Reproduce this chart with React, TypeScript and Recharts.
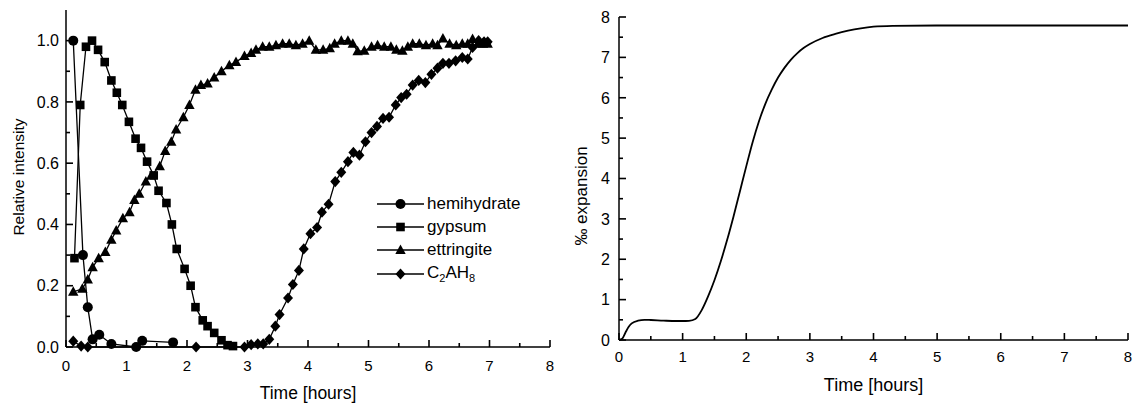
import React from 'react';
import { LineChart, Line, XAxis, YAxis, Legend, Label } from 'recharts';

const FONT = '"Liberation Sans", Arial, Helvetica, sans-serif';

// ---------- data (time [hours], value) ----------
const hemihydrate: [number, number][] = [
  [0.12, 1.0], [0.28, 0.3], [0.36, 0.13], [0.44, 0.025], [0.55, 0.04], [0.75, 0.01],
  [1.16, 0.0], [1.26, 0.02], [1.77, 0.015],
];
const gypsum: [number, number][] = [
  [0.14, 0.29], [0.235, 0.79], [0.33, 0.98], [0.43, 1.0], [0.53, 0.97], [0.64, 0.93],
  [0.75, 0.87], [0.84, 0.83], [0.93, 0.79], [1.04, 0.735], [1.15, 0.68], [1.24, 0.65],
  [1.34, 0.605], [1.45, 0.56], [1.53, 0.51], [1.66, 0.47], [1.75, 0.4], [1.83, 0.32],
  [1.96, 0.255], [2.06, 0.2], [2.14, 0.13], [2.26, 0.087], [2.34, 0.068], [2.45, 0.046],
  [2.57, 0.022], [2.67, 0.006], [2.76, 0.003],
];
const ettringite: [number, number][] = [
  [0.12, 0.18], [0.27, 0.19], [0.36, 0.22], [0.44, 0.26], [0.54, 0.29], [0.65, 0.31],
  [0.75, 0.35], [0.83, 0.38], [0.94, 0.42], [1.05, 0.44], [1.13, 0.48], [1.21, 0.5],
  [1.32, 0.54], [1.41, 0.56], [1.55, 0.59], [1.64, 0.64], [1.74, 0.67], [1.82, 0.71],
  [1.94, 0.75], [2.04, 0.79], [2.14, 0.84], [2.23, 0.855], [2.34, 0.86], [2.45, 0.88],
  [2.57, 0.9], [2.7, 0.92], [2.81, 0.93], [2.95, 0.95], [3.06, 0.96], [3.14, 0.97],
  [3.25, 0.98], [3.36, 0.98], [3.47, 0.985], [3.58, 0.99], [3.69, 0.99], [3.8, 0.985],
  [3.91, 0.99], [4.02, 1.0], [4.13, 0.97], [4.25, 0.97], [4.36, 0.975], [4.44, 0.99],
  [4.55, 1.0], [4.66, 1.0], [4.74, 0.99], [4.82, 0.965], [4.93, 0.967], [5.05, 0.98],
  [5.15, 0.985], [5.26, 0.98], [5.37, 0.98], [5.46, 0.97], [5.56, 0.967], [5.65, 0.98],
  [5.73, 0.99], [5.84, 0.99], [5.95, 0.985], [6.06, 0.99], [6.14, 0.985], [6.23, 1.007],
  [6.34, 0.99], [6.45, 0.985], [6.55, 0.99], [6.64, 0.99], [6.72, 1.005], [6.81, 0.99],
  [6.89, 0.99], [6.97, 0.99],
];
const c2ah8: [number, number][] = [
  [0.12, 0.019], [0.25, 0.003], [0.36, 0.0], [2.15, 0.0], [2.95, 0.0], [3.06, 0.008],
  [3.17, 0.01], [3.26, 0.01], [3.36, 0.025], [3.46, 0.068], [3.53, 0.106], [3.67, 0.16],
  [3.75, 0.204], [3.85, 0.25], [3.93, 0.32], [4.04, 0.37], [4.15, 0.39], [4.23, 0.44],
  [4.34, 0.466], [4.45, 0.54], [4.55, 0.57], [4.66, 0.605], [4.75, 0.635], [4.85, 0.626],
  [4.95, 0.67], [5.05, 0.7], [5.14, 0.72], [5.24, 0.746], [5.34, 0.75], [5.45, 0.79],
  [5.54, 0.814], [5.63, 0.825], [5.73, 0.855], [5.83, 0.87], [5.94, 0.863], [6.04, 0.89],
  [6.14, 0.91], [6.23, 0.926], [6.33, 0.926], [6.44, 0.934], [6.55, 0.945], [6.64, 0.94],
  [6.72, 0.978], [6.82, 1.0], [6.91, 0.996], [6.97, 0.996],
];
const expansion: [number, number][] = [
  [0, 0], [0.05, 0.03], [0.1, 0.18], [0.15, 0.32], [0.2, 0.41], [0.3, 0.48], [0.4, 0.5],
  [0.5, 0.495], [0.7, 0.48], [0.9, 0.47], [1.0, 0.47], [1.1, 0.475], [1.2, 0.52], [1.3, 0.74],
  [1.4, 1.08], [1.5, 1.48], [1.6, 1.95], [1.7, 2.48], [1.8, 3.06], [1.9, 3.68], [2.0, 4.3],
  [2.1, 4.9], [2.2, 5.42], [2.3, 5.85], [2.4, 6.2], [2.5, 6.5], [2.6, 6.74], [2.7, 6.94],
  [2.8, 7.1], [2.9, 7.23], [3.0, 7.33], [3.2, 7.48], [3.4, 7.58], [3.6, 7.66], [3.8, 7.72],
  [4.0, 7.76], [4.3, 7.78], [5.0, 7.79], [6.0, 7.79], [7.0, 7.79], [8.0, 7.79],
];

const timeTicks = [0, 0.5, 1, 1.5, 2, 2.5, 3, 3.5, 4, 4.5, 5, 5.5, 6, 6.5, 7, 7.5, 8];
const intensityTicks = [0, 0.1, 0.2, 0.3, 0.4, 0.5, 0.6, 0.7, 0.8, 0.9, 1.0];
const expansionTicks = [0, 0.5, 1, 1.5, 2, 2.5, 3, 3.5, 4, 4.5, 5, 5.5, 6, 6.5, 7, 7.5, 8];

const seriesNames = ['hemihydrate', 'gypsum', 'ettringite', 'C2AH8'];

const toRows = (pairs: [number, number][]) => pairs.map(([t, v]) => ({ t, v }));

// ---------- markers ----------
type Shape = 'circle' | 'square' | 'triangle' | 'diamond';
function marker(shape: Shape, cx: number, cy: number, key?: string) {
  if (shape === 'circle') return <circle key={key} cx={cx} cy={cy} r={5} fill="#000" />;
  if (shape === 'square')
    return <rect key={key} x={cx - 4.3} y={cy - 4.3} width={8.6} height={8.6} fill="#000" />;
  if (shape === 'triangle')
    return (
      <polygon
        key={key}
        points={`${cx},${cy - 5.5} ${cx - 5.2},${cy + 4} ${cx + 5.2},${cy + 4}`}
        fill="#000"
      />
    );
  return (
    <polygon
      key={key}
      points={`${cx},${cy - 5.6} ${cx + 5},${cy} ${cx},${cy + 5.6} ${cx - 5},${cy}`}
      fill="#000"
    />
  );
}
const dotFor = (shape: Shape) => (p: any) => {
  if (p.cx == null || p.cy == null) return <g key={`e${p.index}`} />;
  return marker(shape, p.cx, p.cy, `${shape}${p.index}`);
};
const shapes: Record<string, Shape> = {
  hemihydrate: 'circle',
  gypsum: 'square',
  ettringite: 'triangle',
  C2AH8: 'diamond',
};

// ---------- ticks ----------
type Side = 'bottom' | 'top' | 'left' | 'right';
function makeTick(
  side: Side,
  isMajor: (v: number) => boolean,
  fmt?: (v: number) => string,
  gap = 10,
  fontSize = 15
) {
  return (props: any) => {
    const { x, y, payload, index } = props;
    const v = payload.value as number;
    const major = isMajor(v);
    const len = major ? 7 : 4;
    let x2 = x;
    let y2 = y;
    if (side === 'bottom') y2 = y - len;
    if (side === 'top') y2 = y + len;
    if (side === 'left') x2 = x + len;
    if (side === 'right') x2 = x - len;
    let label: React.ReactNode = null;
    if (fmt && major) {
      if (side === 'bottom')
        label = (
          <text x={x} y={y + gap} dy="0.71em" textAnchor="middle" fill="#000"
            style={{ fontFamily: FONT, fontSize }}>
            {fmt(v)}
          </text>
        );
      if (side === 'left')
        label = (
          <text x={x - gap} y={y} dy="0.36em" textAnchor="end" fill="#000"
            style={{ fontFamily: FONT, fontSize }}>
            {fmt(v)}
          </text>
        );
    }
    return (
      <g key={`${side}${index}`}>
        <line x1={x} y1={y} x2={x2} y2={y2} stroke="#000" strokeWidth={1.6} />
        {label}
      </g>
    );
  };
}
const isHalfMajor = (v: number) => Math.abs(v - Math.round(v)) < 1e-6;
const isIntensityMajor = (v: number) => Math.round(v * 10) % 2 === 0;

const axisLine = { stroke: '#000', strokeWidth: 1.5 };

// ---------- legend ----------
function legendLabel(name: string) {
  if (name === 'C2AH8')
    return (
      <span>
        C<span style={{ fontSize: 11, position: 'relative', top: 4 }}>2</span>AH
        <span style={{ fontSize: 11, position: 'relative', top: 4 }}>8</span>
      </span>
    );
  return <span>{name}</span>;
}
function LegendBox() {
  return (
    <div style={{ fontFamily: FONT, fontSize: 17, color: '#000' }}>
      {seriesNames.map((n) => (
        <div key={n} style={{ display: 'flex', alignItems: 'center', height: 23.3 }}>
          <svg width={47} height={14} style={{ display: 'block' }}>
            <line x1={0} y1={7} x2={47} y2={7} stroke="#000" strokeWidth={1.3} />
            {marker(shapes[n], 23.5, 7)}
          </svg>
          <span style={{ marginLeft: 3, lineHeight: '18px' }}>{legendLabel(n)}</span>
        </div>
      ))}
    </div>
  );
}

function FrameAxes({ yDomain, yTicks, yMajor }: { yDomain: [number, number]; yTicks: number[]; yMajor: (v: number) => boolean }) {
  return null;
}

function LeftChart() {
  return (
    <LineChart width={560} height={404} margin={{ top: 10, right: 10, bottom: 27, left: 26 }}>
      <XAxis
        dataKey="t"
        type="number"
        domain={[0, 8]}
        ticks={timeTicks}
        interval={0}
        height={30}
        tickSize={0}
        tickMargin={0}
        tickLine={false}
        axisLine={axisLine}
        tick={makeTick('bottom', isHalfMajor, (v) => String(v), 13, 15)}
      >
        <Label
          content={() => (
            <text x={308} y={387} dy="0.71em" textAnchor="middle" fill="#000"
              style={{ fontFamily: FONT, fontSize: 17.5 }}>
              Time [hours]
            </text>
          )}
        />
      </XAxis>
      <XAxis
        xAxisId="top"
        dataKey="t"
        orientation="top"
        type="number"
        domain={[0, 8]}
        ticks={timeTicks}
        interval={0}
        height={0}
        tickSize={0}
        tickMargin={0}
        tickLine={false}
        axisLine={axisLine}
        tick={makeTick('top', isHalfMajor)}
      />
      <YAxis
        type="number"
        domain={[0, 1.1]}
        ticks={intensityTicks}
        interval={0}
        width={40}
        tickSize={0}
        tickMargin={0}
        tickLine={false}
        axisLine={axisLine}
        tick={makeTick('left', isIntensityMajor, (v) => v.toFixed(1), 7, 16)}
      >
        <Label
          content={() => (
            <text x={18} y={177} transform="rotate(-90 18 177)" textAnchor="middle"
              dominantBaseline="central" fill="#000" style={{ fontFamily: FONT, fontSize: 15.5 }}>
              Relative intensity
            </text>
          )}
        />
      </YAxis>
      <YAxis
        yAxisId="right"
        orientation="right"
        type="number"
        domain={[0, 1.1]}
        ticks={intensityTicks}
        interval={0}
        width={0}
        tickSize={0}
        tickMargin={0}
        tickLine={false}
        axisLine={axisLine}
        tick={makeTick('right', isIntensityMajor)}
      />
      {/* invisible copy bound to the mirror axes so the frame axes are rendered */}
      <Line data={toRows(hemihydrate)} dataKey="v" xAxisId="top" yAxisId="right" stroke="none"
        dot={false} activeDot={false} legendType="none" isAnimationActive={false} />
      <Line data={toRows(hemihydrate)} dataKey="v" name="hemihydrate" stroke="#000"
        strokeWidth={1.3} dot={dotFor('circle')} activeDot={false} isAnimationActive={false} />
      <Line data={toRows(gypsum)} dataKey="v" name="gypsum" stroke="#000"
        strokeWidth={1.3} dot={dotFor('square')} activeDot={false} isAnimationActive={false} />
      <Line data={toRows(ettringite)} dataKey="v" name="ettringite" stroke="#000"
        strokeWidth={1.3} dot={dotFor('triangle')} activeDot={false} isAnimationActive={false} />
      <Line data={toRows(c2ah8)} dataKey="v" name="C2AH8" stroke="#000"
        strokeWidth={1.3} dot={dotFor('diamond')} activeDot={false} isAnimationActive={false} />
      <Legend
        layout="vertical"
        align="center"
        verticalAlign="middle"
        content={() => <LegendBox />}
        wrapperStyle={{ position: 'absolute', left: 377, top: 192, width: 'auto', height: 'auto' }}
      />
    </LineChart>
  );
}

function RightChart() {
  return (
    <LineChart width={575} height={404} margin={{ top: 17, right: 7, bottom: 34, left: 19 }}>
      <XAxis
        dataKey="t"
        type="number"
        domain={[0, 8]}
        ticks={timeTicks}
        interval={0}
        height={30}
        tickSize={0}
        tickMargin={0}
        tickLine={false}
        axisLine={axisLine}
        tick={makeTick('bottom', isHalfMajor, (v) => String(v), 11, 15)}
      >
        <Label
          content={() => (
            <text x={313.5} y={378} dy="0.71em" textAnchor="middle" fill="#000"
              style={{ fontFamily: FONT, fontSize: 18 }}>
              Time [hours]
            </text>
          )}
        />
      </XAxis>
      <XAxis
        xAxisId="top"
        dataKey="t"
        orientation="top"
        type="number"
        domain={[0, 8]}
        ticks={timeTicks}
        interval={0}
        height={0}
        tickSize={0}
        tickMargin={0}
        tickLine={false}
        axisLine={axisLine}
        tick={makeTick('top', isHalfMajor)}
      />
      <YAxis
        type="number"
        domain={[0, 8]}
        ticks={expansionTicks}
        interval={0}
        width={40}
        tickSize={0}
        tickMargin={0}
        tickLine={false}
        axisLine={axisLine}
        tick={makeTick('left', isHalfMajor, (v) => String(v), 9, 16)}
      >
        <Label
          content={() => (
            <text x={21.5} y={196} transform="rotate(-90 21.5 196)" textAnchor="middle"
              dominantBaseline="central" fill="#000" style={{ fontFamily: FONT, fontSize: 17 }}>
              ‰ expansion
            </text>
          )}
        />
      </YAxis>
      <YAxis
        yAxisId="right"
        orientation="right"
        type="number"
        domain={[0, 8]}
        ticks={expansionTicks}
        interval={0}
        width={0}
        tickSize={0}
        tickMargin={0}
        tickLine={false}
        axisLine={axisLine}
        tick={makeTick('right', isHalfMajor)}
      />
      {/* invisible copy bound to the mirror axes so the frame axes are rendered */}
      <Line data={toRows(expansion)} dataKey="v" xAxisId="top" yAxisId="right" type="monotone"
        stroke="none" dot={false} activeDot={false} legendType="none" isAnimationActive={false} />
      <Line data={toRows(expansion)} dataKey="v" name="expansion" type="monotone" stroke="#000"
        strokeWidth={1.8} dot={false} activeDot={false} isAnimationActive={false} />
    </LineChart>
  );
}

export default function App() {
  return (
    <div style={{ position: 'absolute', left: 0, top: 0, width: 1135, height: 404, background: '#fff', display: 'flex' }}>
      <LeftChart />
      <RightChart />
    </div>
  );
}
